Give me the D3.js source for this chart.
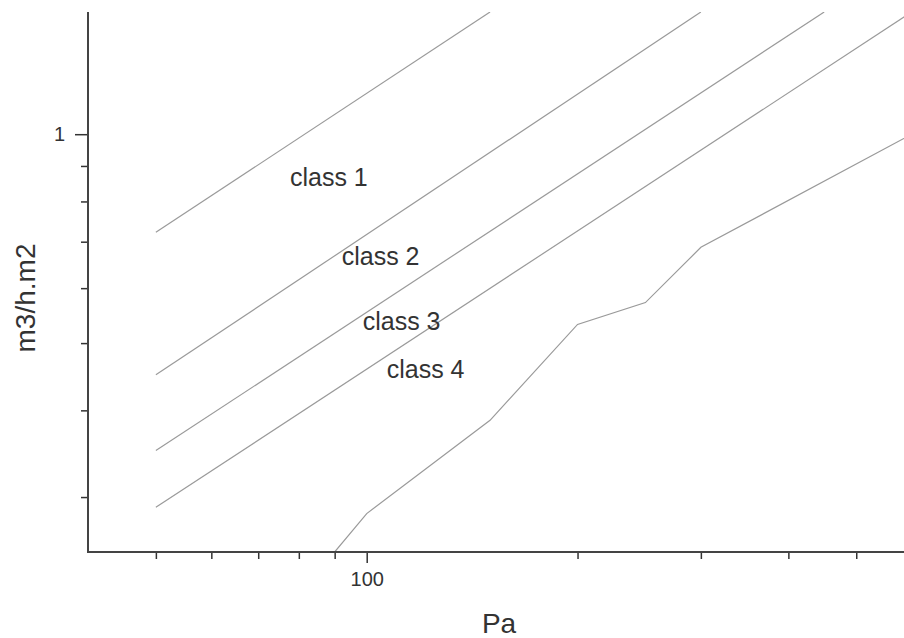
<!DOCTYPE html>
<html>
<head>
<meta charset="utf-8">
<script src="https://cdn.jsdelivr.net/npm/d3@7"></script>
<style>
  body { margin: 0; background: #fff; }
  svg { display: block; font-family: "Liberation Sans", Arial, sans-serif; }
</style>
</head>
<body>
<div id="chart"></div>
<script>
// air flow (m3/h.m2) against pressure (Pa), log-log
const classNames = ["class 1", "class 2", "class 3", "class 4"];
const class1 = [[50, 0.722], [150, 1.5]];
const class2 = [[50, 0.450], [300, 1.5]];
const class3 = [[50, 0.350], [450, 1.5]];
const class4 = [[50, 0.290], [600, 1.5]];

const measuredPa = [90, 100, 150, 200, 250, 300, 600];
const measuredFlow = [0.25, 0.284, 0.387, 0.532, 0.572, 0.687, 1.0];

const xMajorTicks = [100];
const xMinorTicks = [50, 60, 70, 80, 90, 200, 300, 400, 500];
const yMajorTicks = [1];
const yMinorTicks = [0.3, 0.4, 0.5, 0.6, 0.7, 0.8, 0.9];

// where the class names sit, in data units
const labelPa = [77.7, 92.1, 98.7, 106.8];
const labelFlow = [0.843, 0.648, 0.522, 0.445];

let w = 904, h = 638;
let plotLeft = 88, plotRight = 904, plotTop = 12, plotBottom = 552;

let svg = d3.select("#chart")
  .append("svg")
  .attr("width", w)
  .attr("height", h);

let xScale = d3.scaleLog()
  .domain([40, 585])
  .range([plotLeft, plotRight]);

let yScale = d3.scaleLog()
  .domain([0.25, 1.5])
  .range([plotBottom, plotTop]);

svg.append("clipPath")
  .attr("id", "plot-clip")
  .append("rect")
  .attr("x", plotLeft)
  .attr("y", plotTop)
  .attr("width", plotRight - plotLeft)
  .attr("height", plotBottom - plotTop);

let line = d3.line()
  .x(function(d) { return xScale(d[0]); })
  .y(function(d) { return yScale(d[1]); });

let plot = svg.append("g").attr("clip-path", "url(#plot-clip)");

plot.selectAll("path.class-line")
  .data([class1, class2, class3, class4])
  .enter()
  .append("path")
  .attr("class", "class-line")
  .attr("d", line)
  .attr("fill", "none")
  .attr("stroke", "#9a9a9a")
  .attr("stroke-width", 1.2);

let measured = measuredPa.map(function(p, i) { return [p, measuredFlow[i]]; });

plot.append("path")
  .datum(measured)
  .attr("d", line)
  .attr("fill", "none")
  .attr("stroke", "#9a9a9a")
  .attr("stroke-width", 1.2);

svg.selectAll("text.class-label")
  .data(classNames)
  .enter()
  .append("text")
  .attr("class", "class-label")
  .attr("x", function(d, i) { return xScale(labelPa[i]); })
  .attr("y", function(d, i) { return yScale(labelFlow[i]); })
  .attr("font-size", "25px")
  .attr("fill", "#333")
  .text(function(d) { return d; });

// axes: major and minor ticks drawn as two passes
function styleAxis(g) {
  g.select(".domain").remove();
  g.selectAll(".tick line").attr("stroke", "#333").attr("stroke-width", 1.5);
  g.selectAll(".tick text")
    .attr("fill", "#333")
    .attr("font-size", "20px")
    .attr("font-family", "Liberation Sans, Arial, sans-serif");
}

svg.append("g")
  .attr("transform", "translate(0," + plotBottom + ")")
  .call(d3.axisBottom(xScale).tickValues(xMinorTicks).tickSize(7).tickFormat(""))
  .call(styleAxis);

svg.append("g")
  .attr("transform", "translate(0," + plotBottom + ")")
  .call(d3.axisBottom(xScale).tickValues(xMajorTicks).tickSize(11).tickPadding(9).tickFormat(d3.format("d")))
  .call(styleAxis);

svg.append("g")
  .attr("transform", "translate(" + plotLeft + ",0)")
  .call(d3.axisLeft(yScale).tickValues(yMinorTicks).tickSize(7).tickFormat(""))
  .call(styleAxis);

svg.append("g")
  .attr("transform", "translate(" + plotLeft + ",0)")
  .call(d3.axisLeft(yScale).tickValues(yMajorTicks).tickSize(13).tickPadding(10).tickFormat(d3.format("d")))
  .call(styleAxis);

// axis lines
svg.append("line")
  .attr("x1", plotLeft).attr("x2", plotLeft)
  .attr("y1", plotTop).attr("y2", plotBottom + 1)
  .attr("stroke", "#444")
  .attr("stroke-width", 2);

svg.append("line")
  .attr("x1", plotLeft - 1).attr("x2", plotRight)
  .attr("y1", plotBottom).attr("y2", plotBottom)
  .attr("stroke", "#444")
  .attr("stroke-width", 2);

svg.append("text")
  .attr("x", (plotLeft + plotRight) / 2 + 3)
  .attr("y", 633)
  .attr("text-anchor", "middle")
  .attr("font-size", "28px")
  .attr("fill", "#333")
  .text("Pa");

svg.append("text")
  .attr("transform", "translate(35,298) rotate(-90)")
  .attr("text-anchor", "middle")
  .attr("font-size", "28px")
  .attr("fill", "#333")
  .text("m3/h.m2");
</script>
</body>
</html>
